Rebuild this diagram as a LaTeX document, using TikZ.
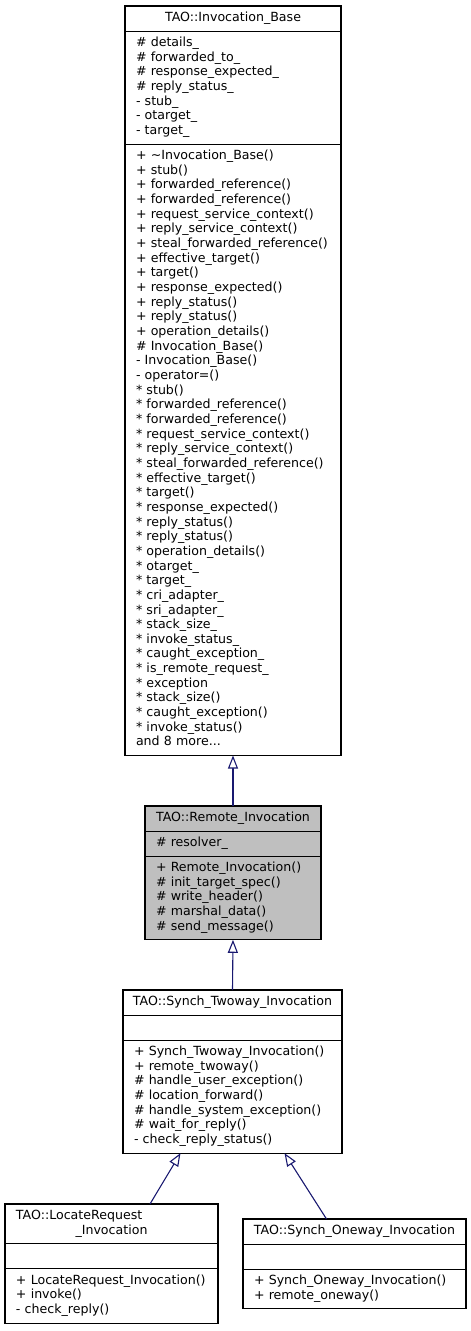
\documentclass[tikz,border=0pt]{standalone}
\usepackage{fontspec}
\setmainfont{DejaVu Sans}
\usetikzlibrary{positioning,arrows.meta}
\definecolor{edgeblue}{HTML}{191970}
\definecolor{basegray}{HTML}{BFBFBF}
\tikzset{
  box/.style={draw=black, line width=1.1pt, fill=white, outer sep=0pt,
    inner xsep=0pt, inner ysep=5.2pt, text width=#1,
    font=\fontsize{12.6}{14.66}\selectfont},
  clsname/.style={box=#1, align=center, execute at begin node=\strut,
    execute at end node=\strut},
  members/.style={box=#1, align=left,
    execute at begin node={\leftskip=11pt\rightskip=0pt plus 1fil\strut},
    execute at end node=\strut},
  inherit/.style={draw=edgeblue, line width=1.1pt,
    -{Triangle[open, fill=white, length=13pt, width=10pt]}}
}

\begin{document}
\begin{tikzpicture}[x=1pt, y=-1pt]
\useasboundingbox (0,0) rectangle (471,1331);

% TAO::Invocation_Base
\node[clsname=216pt, anchor=north west] (ibase) at (125,6) {TAO::Invocation\_Base};
\node[members=216pt, below=0pt of ibase] (ibase attr) {\# details\_\\
\# forwarded\_to\_\\
\# response\_expected\_\\
\# reply\_status\_\\
- stub\_\\
- otarget\_\\
- target\_};
\node[members=216pt, below=0pt of ibase attr] (ibase op) {+ \textasciitilde Invocation\_Base()\\
+ stub()\\
+ forwarded\_reference()\\
+ forwarded\_reference()\\
+ request\_service\_context()\\
+ reply\_service\_context()\\
+ steal\_forwarded\_reference()\\
+ effective\_target()\\
+ target()\\
+ response\_expected()\\
+ reply\_status()\\
+ reply\_status()\\
+ operation\_details()\\
\# Invocation\_Base()\\
- Invocation\_Base()\\
- operator=()\\
{*} stub()\\
{*} forwarded\_reference()\\
{*} forwarded\_reference()\\
{*} request\_service\_context()\\
{*} reply\_service\_context()\\
{*} steal\_forwarded\_reference()\\
{*} effective\_target()\\
{*} target()\\
{*} response\_expected()\\
{*} reply\_status()\\
{*} reply\_status()\\
{*} operation\_details()\\
{*} otarget\_\\
{*} target\_\\
{*} cri\_adapter\_\\
{*} sri\_adapter\_\\
{*} stack\_size\_\\
{*} invoke\_status\_\\
{*} caught\_exception\_\\
{*} is\_remote\_request\_\\
{*} exception\\
{*} stack\_size()\\
{*} caught\_exception()\\
{*} invoke\_status()\\
and 8 more...};

% TAO::Remote_Invocation
\node[clsname=176pt, fill=basegray, anchor=north west] (remote) at (145,806) {TAO::Remote\_Invocation};
\node[members=176pt, fill=basegray, below=0pt of remote] (remote attr) {\# resolver\_};
\node[members=176pt, fill=basegray, below=0pt of remote attr] (remote op) {+ Remote\_Invocation()\\
\# init\_target\_spec()\\
\# write\_header()\\
\# marshal\_data()\\
\# send\_message()};

% TAO::Synch_Twoway_Invocation
\node[clsname=219pt, anchor=north west] (twoway) at (123,990) {TAO::Synch\_Twoway\_Invocation};
\node[members=219pt, below=0pt of twoway] (twoway attr) {};
\node[members=219pt, below=0pt of twoway attr] (twoway op) {+ Synch\_Twoway\_Invocation()\\
+ remote\_twoway()\\
\# handle\_user\_exception()\\
\# location\_forward()\\
\# handle\_system\_exception()\\
\# wait\_for\_reply()\\
- check\_reply\_status()};

% TAO::LocateRequest_Invocation
\node[clsname=213pt, anchor=north west] (locate) at (5,1204) {\makebox[\linewidth][l]{\hspace*{11pt}TAO::LocateRequest}\\
\_Invocation};
\node[members=213pt, below=0pt of locate] (locate attr) {};
\node[members=213pt, below=0pt of locate attr] (locate op) {+ LocateRequest\_Invocation()\\
+ invoke()\\
- check\_reply()};

% TAO::Synch_Oneway_Invocation
\node[clsname=223pt, anchor=north west] (oneway) at (243,1219) {TAO::Synch\_Oneway\_Invocation};
\node[members=223pt, below=0pt of oneway] (oneway attr) {};
\node[members=223pt, below=0pt of oneway attr] (oneway op) {+ Synch\_Oneway\_Invocation()\\
+ remote\_oneway()};

% inheritance
\draw[inherit] (remote.north) -- (ibase op.south);
\draw[inherit] (twoway.north) -- (remote op.south);
\draw[inherit] ([xshift=38.5pt]locate.north) -- ([xshift=-52pt]twoway op.south);
\draw[inherit] ([xshift=-28pt]oneway.north) -- ([xshift=52pt]twoway op.south);
\end{tikzpicture}
\end{document}
